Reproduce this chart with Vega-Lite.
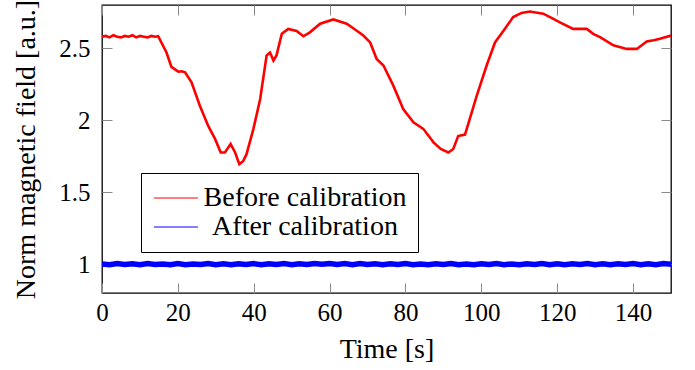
{
  "$schema": "https://vega.github.io/schema/vega-lite/v6.json",
  "autosize": {"type": "none"},
  "padding": {"left": 102, "top": 5, "right": 24, "bottom": 77},
  "width": 569,
  "height": 288,
  "config": {
    "font": "Liberation Serif",
    "view": {"stroke": "black", "strokeWidth": 1.3},
    "axis": {
      "domain": false, "grid": false, "tickColor": "#888", "tickSize": -10, "tickWidth": 1, "labelFlush": false,
      "labelFont": "Liberation Serif", "labelFontSize": 25, "labelColor": "black",
      "titleFont": "Liberation Serif", "titleFontSize": 28, "titleFontWeight": "normal", "titleColor": "black"
    }
  },
  "datasets": {
    "before": [
      {"t":0,"v":2.58},{"t":1,"v":2.585},{"t":2,"v":2.575},{"t":3,"v":2.59},{"t":4,"v":2.58},{"t":5,"v":2.575},{"t":6,"v":2.585},{"t":7,"v":2.58},{"t":8,"v":2.59},{"t":9,"v":2.575},{"t":10,"v":2.585},{"t":11,"v":2.58},{"t":12,"v":2.575},{"t":13,"v":2.585},{"t":14,"v":2.58},{"t":14.8,"v":2.583},
      {"t":17.0,"v":2.47},{"t":18.3,"v":2.37},{"t":20.1,"v":2.337},{"t":21.0,"v":2.34},{"t":21.9,"v":2.333},{"t":23.6,"v":2.263},{"t":25.8,"v":2.10},{"t":28.0,"v":1.96},{"t":29.8,"v":1.87},{"t":31.3,"v":1.776},{"t":32.4,"v":1.776},{"t":33.9,"v":1.834},{"t":35.1,"v":1.776},{"t":36.2,"v":1.695},{"t":37.2,"v":1.715},{"t":38.1,"v":1.764},{"t":39.9,"v":1.938},{"t":41.7,"v":2.147},{"t":43.4,"v":2.45},{"t":44.3,"v":2.47},{"t":45.2,"v":2.414},{"t":46.0,"v":2.45},{"t":47.4,"v":2.60},{"t":49.1,"v":2.634},{"t":51.3,"v":2.62},{"t":53.1,"v":2.583},{"t":54.8,"v":2.61},{"t":57.5,"v":2.67},{"t":61.0,"v":2.70},{"t":64.5,"v":2.67},{"t":66.7,"v":2.63},{"t":68.9,"v":2.588},{"t":70.7,"v":2.54},{"t":72.4,"v":2.425},{"t":74.2,"v":2.38},{"t":76.8,"v":2.24},{"t":79.4,"v":2.078},{"t":82.1,"v":1.985},{"t":84.7,"v":1.94},{"t":87.4,"v":1.846},{"t":89.3,"v":1.80},{"t":91.3,"v":1.776},{"t":92.6,"v":1.80},{"t":93.9,"v":1.89},{"t":95.7,"v":1.90},{"t":98.8,"v":2.17},{"t":101.4,"v":2.38},{"t":103.6,"v":2.54},{"t":105.8,"v":2.62},{"t":108.4,"v":2.716},{"t":110.6,"v":2.745},{"t":112.8,"v":2.755},{"t":116.3,"v":2.74},{"t":118.5,"v":2.71},{"t":120.7,"v":2.68},{"t":124.2,"v":2.634},{"t":127.8,"v":2.634},{"t":129.5,"v":2.60},{"t":131.3,"v":2.577},{"t":134.8,"v":2.52},{"t":138.3,"v":2.495},{"t":141.0,"v":2.495},{"t":143.6,"v":2.546},{"t":145.4,"v":2.555},{"t":147.1,"v":2.565},{"t":150,"v":2.588}
    ],
    "after": [
      {"t":0,"v":1.002},{"t":2,"v":0.997},{"t":4,"v":1.004},{"t":6,"v":0.998},{"t":8,"v":1.003},{"t":10,"v":0.996},{"t":12,"v":1.004},{"t":14,"v":0.998},{"t":16,"v":1.002},{"t":18,"v":0.997},{"t":20,"v":1.004},{"t":22,"v":0.997},{"t":24,"v":1.002},{"t":26,"v":0.998},{"t":28,"v":1.004},{"t":30,"v":0.997},{"t":32,"v":1.003},{"t":34,"v":0.996},{"t":36,"v":1.003},{"t":38,"v":0.998},{"t":40,"v":1.004},{"t":42,"v":0.997},{"t":44,"v":1.003},{"t":46,"v":0.998},{"t":48,"v":1.004},{"t":50,"v":0.997},{"t":52,"v":1.003},{"t":54,"v":0.998},{"t":56,"v":1.005},{"t":58,"v":0.999},{"t":60,"v":1.005},{"t":62,"v":0.998},{"t":64,"v":1.004},{"t":66,"v":0.997},{"t":68,"v":1.004},{"t":70,"v":0.998},{"t":72,"v":1.003},{"t":74,"v":0.997},{"t":76,"v":1.003},{"t":78,"v":0.998},{"t":80,"v":1.004},{"t":82,"v":0.997},{"t":84,"v":1.002},{"t":86,"v":0.997},{"t":88,"v":1.003},{"t":90,"v":0.998},{"t":92,"v":1.004},{"t":94,"v":0.997},{"t":96,"v":1.002},{"t":98,"v":0.997},{"t":100,"v":1.003},{"t":102,"v":0.998},{"t":104,"v":1.004},{"t":106,"v":0.997},{"t":108,"v":1.002},{"t":110,"v":0.997},{"t":112,"v":1.003},{"t":114,"v":0.998},{"t":116,"v":1.004},{"t":118,"v":0.997},{"t":120,"v":1.003},{"t":122,"v":0.997},{"t":124,"v":1.003},{"t":126,"v":0.998},{"t":128,"v":1.004},{"t":130,"v":0.997},{"t":132,"v":1.003},{"t":134,"v":0.997},{"t":136,"v":1.003},{"t":138,"v":0.998},{"t":140,"v":1.004},{"t":142,"v":0.997},{"t":144,"v":1.003},{"t":146,"v":0.997},{"t":148,"v":1.004},{"t":150,"v":0.999}
    ]
  },
  "layer": [
    {
      "data": {"name": "before"},
      "transform": [{"calculate": "'Before calibration'", "as": "series"}],
      "mark": {"type": "line", "strokeWidth": 2.6, "clip": true},
      "encoding": {
        "x": {"field": "t", "type": "quantitative", "scale": {"domain": [0, 150], "nice": false, "zero": false},
              "axis": {"values": [0,20,40,60,80,100,120,140], "title": "Time [s]", "labelPadding": 17, "titlePadding": 10}},
        "y": {"field": "v", "type": "quantitative", "scale": {"domain": [0.8, 2.8], "nice": false, "zero": false},
              "axis": {"values": [1,1.5,2,2.5], "format": "~g", "title": "Norm magnetic field [a.u.]", "labelPadding": 22, "titlePadding": 18}},
        "color": {"field": "series", "type": "nominal",
          "scale": {"domain": ["Before calibration", "After calibration"], "range": ["#ff0000", "#0000ff"]},
          "legend": {"title": null, "orient": "none", "legendX": 39, "legendY": 168, "symbolType": "M-1.1,0H2.9", "symbolSize": 484, "symbolStrokeWidth": 1.2,
                     "labelFontSize": 28, "labelColor": "black", "labelLimit": 400, "labelAlign": "center", "labelOffset": 125,
                     "fillColor": "white", "strokeColor": "black", "padding": 11, "rowPadding": 1,
                     "encode": {"symbols": {"update": {"stroke": {"scale": "color", "field": "value"}, "fill": {"value": "transparent"}}}}}}
      }
    },
    {
      "data": {"name": "after"},
      "transform": [{"calculate": "'After calibration'", "as": "series"}],
      "mark": {"type": "line", "strokeWidth": 5.5, "clip": true},
      "encoding": {
        "x": {"field": "t", "type": "quantitative", "axis": {"orient": "top", "values": [0,20,40,60,80,100,120,140], "labels": false, "title": null}},
        "y": {"field": "v", "type": "quantitative", "axis": {"orient": "right", "values": [1,1.5,2,2.5], "labels": false, "title": null}},
        "color": {"field": "series", "type": "nominal"}
      }
    }
  ],
  "resolve": {"axis": {"x": "independent", "y": "independent"}}
}
